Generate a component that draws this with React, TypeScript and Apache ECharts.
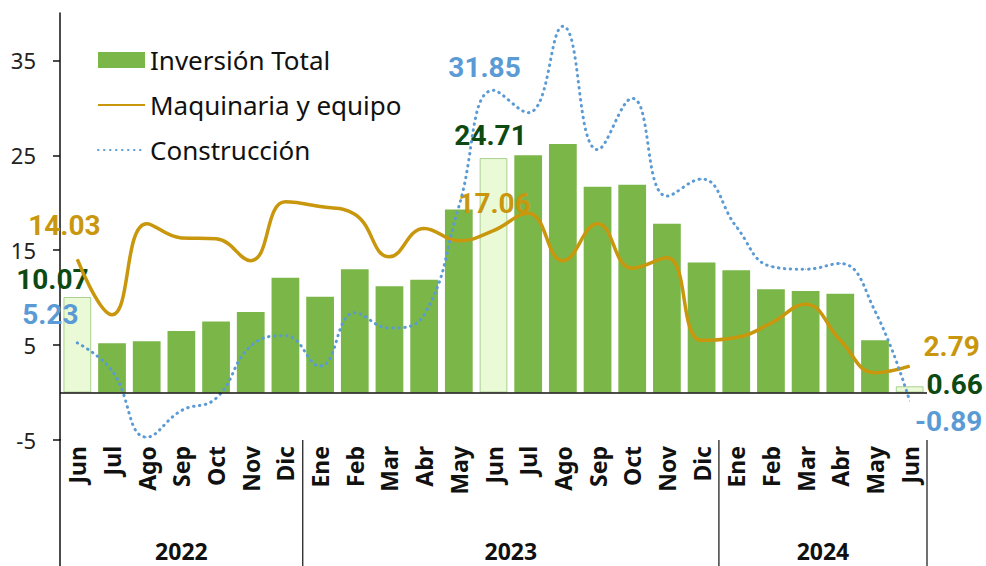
import React, { useEffect, useRef } from 'react';
import * as echarts from 'echarts';

const months = ['Jun', 'Jul', 'Ago', 'Sep', 'Oct', 'Nov', 'Dic', 'Ene', 'Feb', 'Mar', 'Abr', 'May', 'Jun', 'Jul', 'Ago', 'Sep', 'Oct', 'Nov', 'Dic', 'Ene', 'Feb', 'Mar', 'Abr', 'May', 'Jun'];
const years = ['2022', '2023', '2024'];
const yearSpans = [7, 12, 6];
const inversionTotal = [10.07, 5.2, 5.4, 6.5, 7.5, 8.5, 12.1, 10.1, 13.0, 11.2, 11.9, 19.3, 24.71, 25.0, 26.2, 21.7, 21.9, 17.8, 13.7, 12.9, 10.9, 10.7, 10.4, 5.5, 0.66];
const maquinaria = [14.03, 8.2, 17.8, 16.3, 16.2, 13.9, 20.1, 19.6, 18.8, 14.3, 17.3, 16.0, 17.06, 18.9, 13.9, 17.8, 13.1, 14.2, 5.5, 5.8, 7.3, 9.3, 5.5, 2.1, 2.79];
const construccion = [5.23, 2.3, -4.7, -1.9, -0.6, 4.9, 6.0, 2.8, 8.4, 6.8, 8.2, 19.6, 31.85, 29.5, 38.6, 25.6, 31.0, 20.7, 22.5, 17.5, 13.3, 13.0, 13.6, 8.6, -0.89];
const highlighted = [0, 12, 24];
const yTicks = [-5, 5, 15, 25, 35];

const GREEN = '#7ab648';
const LIGHT = '#ebfad6';
const LIGHT_BORDER = '#a9d08e';
const GOLD = '#c9970d';
const BLUE = '#5b9bd5';
const DARK_GREEN = '#0d4a12';
const LABEL_FONT = 'Roboto, "Noto Sans", sans-serif';
const TEXT_FONT = '"Noto Sans", Lato, sans-serif';

// label offsets for the highlighted points (bar, gold line, blue line)
const barOffsets: Record<number, number[]> = { 0: [-25, -4], 12: [-3, -9], 24: [45, 12] };
const goldOffsets: Record<number, number[]> = { 0: [-13, -34], 12: [1, -27], 24: [42, -20] };
const blueOffsets: Record<number, number[]> = { 0: [-27, -28], 12: [-9, -23], 24: [39, 20] };

const labelStyle = (color: string) => ({
  color,
  fontSize: 28,
  fontWeight: 'bold' as const,
  fontFamily: LABEL_FONT,
});

export default function App() {
  const ref = useRef<HTMLDivElement>(null);

  useEffect(() => {
    if (!ref.current) return;
    const chart = echarts.init(ref.current, null, { renderer: 'svg' });
    const cats = months.map((m, i) => `${m}|${i}`);

    const barData = inversionTotal.map((v, i) => {
      if (!highlighted.includes(i)) return v;
      return {
        value: v,
        itemStyle: { color: LIGHT, borderColor: LIGHT_BORDER, borderWidth: 1 },
        label: {
          show: true,
          position: 'top',
          distance: 0,
          offset: barOffsets[i],
          ...labelStyle(DARK_GREEN),
        },
      };
    });
    const lineData = (arr: number[], color: string, offs: Record<number, number[]>) =>
      arr.map((v, i) => {
        if (!highlighted.includes(i)) return v;
        return {
          value: v,
          label: {
            show: true,
            position: 'inside',
            align: 'center',
            verticalAlign: 'middle',
            offset: offs[i],
            ...labelStyle(color),
          },
        };
      });

    chart.setOption({
      animation: false,
      grid: { left: 60, right: 59, top: 13, bottom: 126, containLabel: false },
      legend: {
        orient: 'vertical',
        left: 92,
        top: 42,
        itemWidth: 47,
        itemHeight: 16,
        itemGap: 19,
        textStyle: { fontSize: 26, color: '#111', fontFamily: TEXT_FONT },
        data: [
          { name: 'Inversión Total', icon: 'rect', itemStyle: { color: GREEN, borderWidth: 0 } },
          { name: 'Maquinaria y equipo', itemStyle: { opacity: 0 } },
          { name: 'Construcción', itemStyle: { opacity: 0 } },
        ],
      },
      xAxis: {
        type: 'category',
        data: cats,
        position: 'bottom',
        axisLine: { show: false, onZero: false },
        axisTick: { show: false },
        axisLabel: {
          rotate: 90,
          interval: 0,
          margin: 6,
          fontSize: 23,
          fontWeight: 'bold',
          color: '#111',
          fontFamily: TEXT_FONT,
          formatter: (v: string) => v.split('|')[0],
        },
      },
      yAxis: {
        type: 'value',
        min: -5,
        max: 40,
        interval: 10,
        splitLine: { show: false },
        axisLine: { show: true, lineStyle: { color: '#111', width: 1.5 } },
        axisTick: { show: true, length: 7, customValues: yTicks, lineStyle: { color: '#111', width: 1.5 } },
        axisLabel: { fontSize: 22, color: '#222', margin: 24, fontFamily: TEXT_FONT, customValues: yTicks },
      },
      series: [
        {
          name: 'Inversión Total',
          type: 'bar',
          data: barData,
          barCategoryGap: '20%',
          itemStyle: { color: GREEN },
          markLine: {
            silent: true,
            symbol: 'none',
            label: { show: false },
            lineStyle: { color: '#111', width: 1.5, type: 'solid' },
            data: [{ yAxis: 0 }],
          },
          z: 2,
        },
        {
          name: 'Maquinaria y equipo',
          type: 'line',
          data: lineData(maquinaria, GOLD, goldOffsets),
          smooth: 0.45,
          symbol: 'circle',
          symbolSize: 1,
          showSymbol: true,
          itemStyle: { color: GOLD },
          lineStyle: { color: GOLD, width: 3.5 },
          z: 3,
        },
        {
          name: 'Construcción',
          type: 'line',
          data: lineData(construccion, BLUE, blueOffsets),
          smooth: 0.45,
          symbol: 'circle',
          symbolSize: 1,
          showSymbol: true,
          itemStyle: { color: BLUE },
          lineStyle: { color: BLUE, width: 3, type: [0.5, 5.5], cap: 'round' },
          z: 4,
        },
      ],
    });

    // group separators and year labels, placed through the category axis scale
    const c0 = chart.convertToPixel({ xAxisIndex: 0 }, cats[0]) as number;
    const c1 = chart.convertToPixel({ xAxisIndex: 0 }, cats[1]) as number;
    const band = c1 - c0;
    const yBottom = chart.convertToPixel({ yAxisIndex: 0 }, -5) as number;
    const boundaryX = (idx: number) => c0 + band * idx - band / 2;
    const graphics: any[] = [];
    let start = 0;
    const bounds = [0];
    yearSpans.forEach((s) => {
      start += s;
      bounds.push(start);
    });
    bounds.forEach((b) => {
      graphics.push({
        type: 'line',
        shape: { x1: boundaryX(b), y1: b === 0 ? yBottom - 1 : yBottom, x2: boundaryX(b), y2: 566 },
        style: { stroke: '#111', lineWidth: b === 0 ? 1.5 : 1.2 },
        silent: true,
      });
    });
    years.forEach((y, k) => {
      const mid = (boundaryX(bounds[k]) + boundaryX(bounds[k + 1])) / 2;
      graphics.push({
        type: 'text',
        x: mid,
        y: 551,
        style: {
          text: y,
          fill: '#111',
          fontSize: 23,
          fontWeight: 'bold',
          fontFamily: TEXT_FONT,
          align: 'center',
          verticalAlign: 'middle',
        },
        silent: true,
      });
    });
    chart.setOption({ graphic: graphics });

    return () => chart.dispose();
  }, []);

  return <div ref={ref} style={{ width: 986, height: 566, position: 'absolute', left: 0, top: 0 }} />;
}
